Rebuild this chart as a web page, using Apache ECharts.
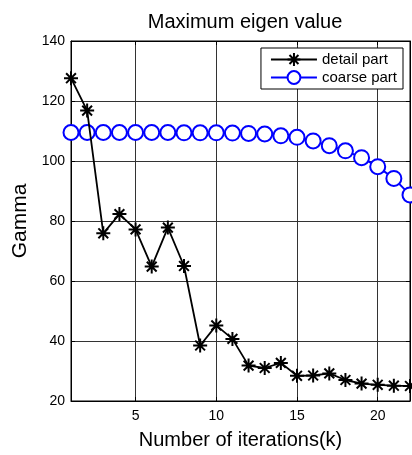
<!DOCTYPE html>
<html>
<head>
<meta charset="utf-8">
<script src="https://cdn.jsdelivr.net/npm/echarts@6/dist/echarts.min.js"></script>
<style>
  html, body { margin: 0; padding: 0; background: #fff; }
  #chart { width: 412px; height: 455px; }
</style>
</head>
<body>
<div id="chart"></div>
<script>
// iterations k = 1..22
const iterations = [1, 2, 3, 4, 5, 6, 7, 8, 9, 10, 11, 12, 13, 14, 15, 16, 17, 18, 19, 20, 21, 22];
const detailPart = [127.6, 116.8, 75.9, 82.3, 77.2, 64.8, 77.8, 65.0, 38.5, 45.2, 40.7, 31.8, 31.0, 32.7, 28.4, 28.5, 29.2, 27.0, 25.8, 25.4, 25.1, 25.0];
const coarsePart = [109.5, 109.5, 109.5, 109.5, 109.5, 109.5, 109.5, 109.4, 109.4, 109.4, 109.3, 109.2, 109.0, 108.4, 107.9, 106.7, 105.1, 103.4, 101.1, 98.1, 94.2, 88.7];
const xTicks = [5, 10, 15, 20];
const yTicks = [20, 40, 60, 80, 100, 120, 140];

// asterisk marker like matlab '*'
const asterisk = 'path://M0,-10L0,10M-10,0L10,0M-7,-7L7,7M-7,7L7,-7';
const font = 'Liberation Sans, Arial, sans-serif';

const chart = echarts.init(document.getElementById('chart'));

const pair = (xs, ys) => xs.map((x, i) => [x, ys[i]]);

const gridLine = { show: true, lineStyle: { color: '#333', width: 1 } };

const option = {
  backgroundColor: '#fff',
  animation: false,
  title: {
    text: 'Maximum eigen value',
    left: 240,
    textAlign: 'center',
    top: 7,
    textStyle: { fontFamily: font, fontSize: 20, fontWeight: 'normal', color: '#000' }
  },
  legend: {
    orient: 'vertical',
    right: 9,
    top: 48,
    backgroundColor: '#fff',
    borderColor: '#000',
    borderWidth: 1,
    borderRadius: 0,
    padding: [4, 6, 4, 9],
    itemGap: 3,
    itemWidth: 46,
    itemHeight: 16,
    textStyle: { fontFamily: font, fontSize: 15, color: '#000' },
    data: ['detail part', 'coarse part']
  },
  grid: {
    left: 71, right: 2, top: 41, bottom: 54,
    show: true,
    borderColor: '#000',
    borderWidth: 1
  },
  xAxis: [{
    type: 'value',
    min: 1,
    max: 22,
    name: 'Number of iterations(k)',
    nameLocation: 'middle',
    nameGap: 29,
    nameTextStyle: { fontFamily: font, fontSize: 20, color: '#000' },
    axisLine: { show: true, lineStyle: { color: '#000' } },
    axisTick: { show: true, inside: true, length: 4, customValues: xTicks, lineStyle: { color: '#000' } },
    axisLabel: { customValues: xTicks, fontFamily: font, fontSize: 14, color: '#000', margin: 8 },
    splitLine: gridLine
  }, {
    type: 'value',
    position: 'top',
    min: 1,
    max: 22,
    axisLine: { show: true, lineStyle: { color: '#000' } },
    axisTick: { show: true, inside: true, length: 4, customValues: xTicks, lineStyle: { color: '#000' } },
    axisLabel: { show: false },
    splitLine: { show: false }
  }],
  yAxis: [{
    type: 'value',
    min: 20,
    max: 140,
    interval: 20,
    name: 'Gamma',
    nameLocation: 'middle',
    nameGap: 38,
    nameTextStyle: { fontFamily: font, fontSize: 21, color: '#000' },
    axisLine: { show: true, lineStyle: { color: '#000' } },
    axisTick: { show: true, inside: true, length: 4, lineStyle: { color: '#000' } },
    axisLabel: { fontFamily: font, fontSize: 14, color: '#000', margin: 6,
      formatter: v => yTicks.includes(v) ? String(v) : '' },
    splitLine: gridLine
  }, {
    type: 'value',
    position: 'right',
    min: 20,
    max: 140,
    interval: 20,
    axisLine: { show: true, lineStyle: { color: '#000' } },
    axisTick: { show: true, inside: true, length: 4, lineStyle: { color: '#000' } },
    axisLabel: { show: false },
    splitLine: { show: false }
  }],
  series: [{
    name: 'detail part',
    type: 'line',
    data: pair(iterations, detailPart),
    symbol: asterisk,
    symbolSize: 14,
    lineStyle: { color: '#000', width: 1.8 },
    itemStyle: { color: '#000', borderColor: '#000', borderWidth: 2 },
    z: 3
  }, {
    name: 'coarse part',
    type: 'line',
    data: pair(iterations, coarsePart),
    symbol: 'emptyCircle',
    symbolSize: 15,
    lineStyle: { color: '#0000ff', width: 2 },
    itemStyle: { color: '#0000ff', borderColor: '#0000ff', borderWidth: 2 },
    z: 2
  }]
};

chart.setOption(option);
</script>
</body>
</html>
